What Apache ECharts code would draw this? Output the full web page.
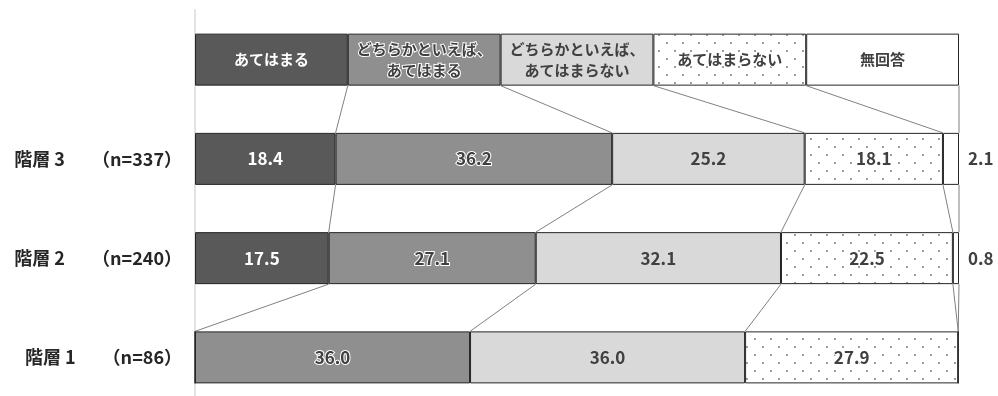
<!DOCTYPE html>
<html>
<head>
<meta charset="utf-8">
<script src="https://cdn.jsdelivr.net/npm/echarts@6/dist/echarts.min.js"></script>
<style>
  html, body { margin: 0; padding: 0; background: #fff; }
  #chart { width: 998px; height: 396px; }
</style>
</head>
<body>
<div id="chart"></div>
<script>
// Rows, top to bottom (the first row is the answer-key strip)
const rowNames = ['', '階層 3', '階層 2', '階層 1'];
const rowCounts = [null, 337, 240, 86];

// Answer options (stack order)
const answerNames = ['あてはまる', 'どちらかといえば、\nあてはまる', 'どちらかといえば、\nあてはまらない', 'あてはまらない', '無回答'];
const keyShare = 20; // each option's width in the key strip

// Percentages per option: 階層3, 階層2, 階層1
const ateHamaru      = [18.4, 17.5, 0];
const dochiraHamaru  = [36.2, 27.1, 36.0];
const dochiraNai     = [25.2, 32.1, 36.0];
const ateHamaranai   = [18.1, 22.5, 27.9];
const muKaito        = [2.1, 0.8, 0];

const optionValues = [ateHamaru, dochiraHamaru, dochiraNai, ateHamaranai, muKaito];

// Dotted fill for あてはまらない
const dots = document.createElement('canvas');
dots.width = 16; dots.height = 16;
(function () {
  const c = dots.getContext('2d');
  c.fillStyle = '#ffffff';
  c.fillRect(0, 0, 16, 16);
  c.fillStyle = '#6e6e6e';
  [[3, 3], [11, 11]].forEach(([x, y]) => {
    c.beginPath(); c.arc(x, y, 0.9, 0, Math.PI * 2); c.fill();
  });
})();

const fills = ['#595959', '#8f8f8f', '#d9d9d9', { image: dots, repeat: 'repeat' }, '#ffffff'];
const BAR_H = 52;
const FONT = 'Noto Sans CJK JP';

const labelStyles = [
  { color: '#ffffff' },
  { color: '#404040', textBorderColor: '#ffffff', textBorderWidth: 2 },
  { color: '#404040' },
  { color: '#404040', textBorderColor: '#ffffff', textBorderWidth: 2 },
  { color: '#404040' }
];

const barSeries = optionValues.map((vals, k) => {
  const data = [keyShare].concat(vals).map((v, i) => {
    const item = { value: v };
    if (i === 0) {
      item.label = { fontSize: 15, lineHeight: 21, position: 'inside' };
    } else if (k === 4) {
      item.label = { position: 'right', distance: 9, color: '#404040' };
    }
    return item;
  });
  return {
    type: 'bar',
    name: answerNames[k],
    stack: 'all',
    barWidth: BAR_H,
    data: data,
    itemStyle: { color: fills[k], borderColor: '#262626', borderWidth: 1 },
    label: Object.assign({
      show: true,
      position: 'inside',
      fontFamily: FONT,
      fontWeight: 'bold',
      fontSize: 17,
      formatter: p => {
        if (p.dataIndex === 0) return answerNames[k];
        return p.value === 0 ? '' : p.value.toFixed(1);
      }
    }, labelStyles[k]),
    emphasis: { disabled: true },
    silent: true
  };
});

// Connector lines between the stack boundaries of neighbouring rows
const rowsAll = [optionValues.map(() => keyShare)].concat(
  [0, 1, 2].map(r => optionValues.map(v => v[r]))
);
const cumul = rowsAll.map(row => {
  let s = 0;
  return row.map(v => (s += v));
});
const connectors = [];
for (let r = 0; r < cumul.length - 1; r++) {
  for (let k = 0; k < answerNames.length; k++) {
    connectors.push([cumul[r][k], r, cumul[r + 1][k], r + 1]);
  }
}

const connectorSeries = {
  type: 'custom',
  data: connectors,
  encode: { x: [0, 2], y: [1, 3] },
  silent: true,
  z: 1,
  renderItem: (params, api) => {
    const a = api.coord([api.value(0), api.value(1)]);
    const b = api.coord([api.value(2), api.value(3)]);
    return {
      type: 'line',
      shape: { x1: a[0], y1: a[1] + BAR_H / 2, x2: b[0], y2: b[1] - BAR_H / 2 },
      style: { stroke: '#808080', lineWidth: 1 }
    };
  }
};

const chart = echarts.init(document.getElementById('chart'));
chart.setOption({
  animation: false,
  grid: { left: 195, right: 39, top: 10, height: 397, containLabel: false, outerBoundsMode: 'none' },
  xAxis: { type: 'value', min: 0, max: 100, show: false },
  yAxis: {
    type: 'category',
    inverse: true,
    data: rowNames,
    axisLine: { show: true, lineStyle: { color: '#e3e3e3', width: 2 } },
    axisTick: { show: false },
    axisLabel: {
      margin: 13,
      formatter: (v, i) => v ? `{a|${v}}{b|（n=${rowCounts[i]}）}` : '',
      rich: {
        a: { padding: [0, 27, 0, 0], fontSize: 18, fontWeight: 'bold', color: '#262626', fontFamily: FONT },
        b: { fontSize: 18, fontWeight: 'bold', color: '#262626', fontFamily: FONT }
      }
    }
  },
  series: barSeries.concat([connectorSeries])
});
</script>
</body>
</html>
